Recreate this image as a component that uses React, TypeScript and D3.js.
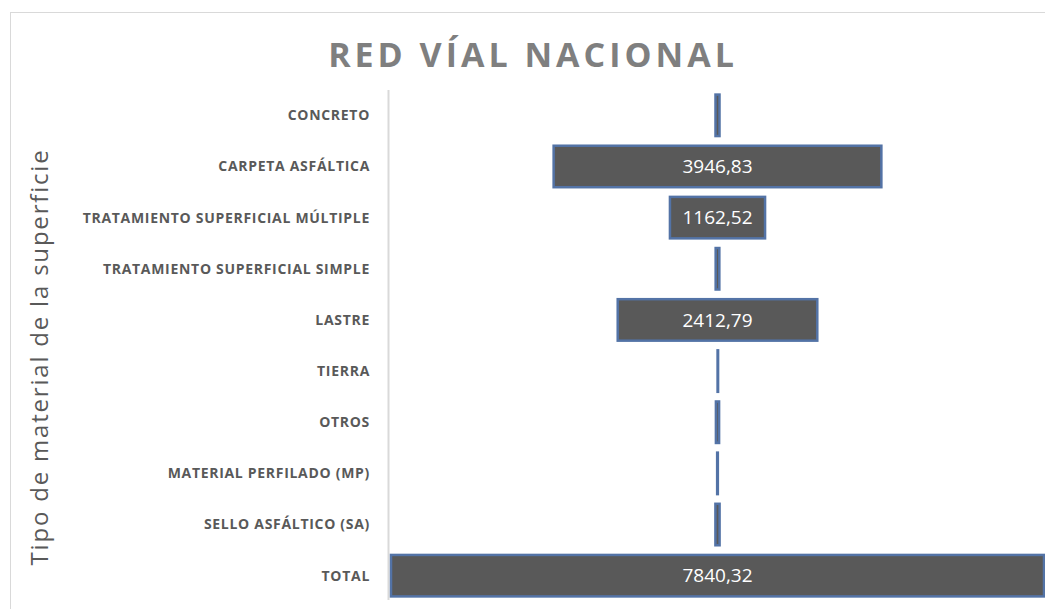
import React, { useEffect, useRef } from 'react';
import * as d3 from 'd3';

const categories = [
  'CONCRETO',
  'CARPETA ASFÁLTICA',
  'TRATAMIENTO SUPERFICIAL MÚLTIPLE',
  'TRATAMIENTO SUPERFICIAL SIMPLE',
  'LASTRE',
  'TIERRA',
  'OTROS',
  'MATERIAL PERFILADO (MP)',
  'SELLO ASFÁLTICO (SA)',
  'TOTAL',
];
const values = [72, 3946.83, 1162.52, 68, 2412.79, 22, 62, 32, 74, 7840.32];
const labelled = [false, true, true, false, true, false, false, false, false, true];

const W = 1045;
const H = 609;

const App = () => {
  const ref = useRef<SVGSVGElement>(null);

  useEffect(() => {
    const svg = d3.select(ref.current);
    svg.selectAll('*').remove();

    // frame
    svg.append('rect')
      .attr('x', 10.5).attr('y', 12.5)
      .attr('width', W + 10).attr('height', H + 10)
      .attr('fill', '#fff').attr('stroke', '#d9d9d9');

    svg.append('text')
      .attr('x', 533).attr('y', 67)
      .attr('text-anchor', 'middle')
      .attr('font-family', 'Open Sans')
      .attr('font-weight', 700)
      .attr('font-size', 34)
      .attr('letter-spacing', 4)
      .attr('fill', '#7f7f7f')
      .text('RED VÍAL NACIONAL');

    const x0 = 390;
    const x1 = 1045;
    const mid = (x0 + x1) / 2;
    const x = d3.scaleLinear().domain([0, d3.max(values) as number]).range([0, x1 - x0]);
    const y = d3.scaleBand().domain(categories).range([90, 601]).paddingInner(0.15).paddingOuter(0.07);

    // axis line
    svg.append('line')
      .attr('x1', 388.5).attr('x2', 388.5)
      .attr('y1', 90).attr('y2', 600)
      .attr('stroke', '#d9d9d9').attr('stroke-width', 2);

    const rows = svg.selectAll('g.row')
      .data(categories)
      .enter()
      .append('g')
      .attr('class', 'row');

    rows.append('rect')
      .attr('x', (d, i) => mid - x(values[i]) / 2 + 1)
      .attr('y', d => (y(d) as number) + 1)
      .attr('width', (d, i) => Math.max(x(values[i]) - 2, 0.5))
      .attr('height', y.bandwidth() - 2)
      .attr('fill', '#595959')
      .attr('stroke', '#5373a6')
      .attr('stroke-width', 2.5);

    rows.filter((d, i) => labelled[i])
      .append('text')
      .attr('x', mid)
      .attr('y', d => (y(d) as number) + y.bandwidth() / 2)
      .attr('dy', '0.35em')
      .attr('text-anchor', 'middle')
      .attr('font-family', 'Open Sans')
      .attr('font-size', 19)
      .attr('fill', '#fff')
      .text(d => values[categories.indexOf(d)].toFixed(2).replace('.', ','));

    rows.append('text')
      .attr('x', 370)
      .attr('y', d => (y(d) as number) + y.bandwidth() / 2)
      .attr('dy', '0.35em')
      .attr('text-anchor', 'end')
      .attr('font-family', 'Open Sans')
      .attr('font-weight', 700)
      .attr('font-size', 14)
      .attr('letter-spacing', 0.7)
      .attr('fill', '#595959')
      .text(d => d);

    svg.append('text')
      .attr('transform', `translate(48,357) rotate(-90)`)
      .attr('text-anchor', 'middle')
      .attr('font-family', 'Open Sans')
      .attr('font-weight', 500)
      .attr('font-size', 24)
      .attr('letter-spacing', 1.8)
      .attr('fill', '#595959')
      .text('Tipo de material de la superficie');
  }, []);

  return (
    <svg ref={ref} width={W} height={H} style={{ position: 'absolute', left: 0, top: 0 }} />
  );
};

export default App;
